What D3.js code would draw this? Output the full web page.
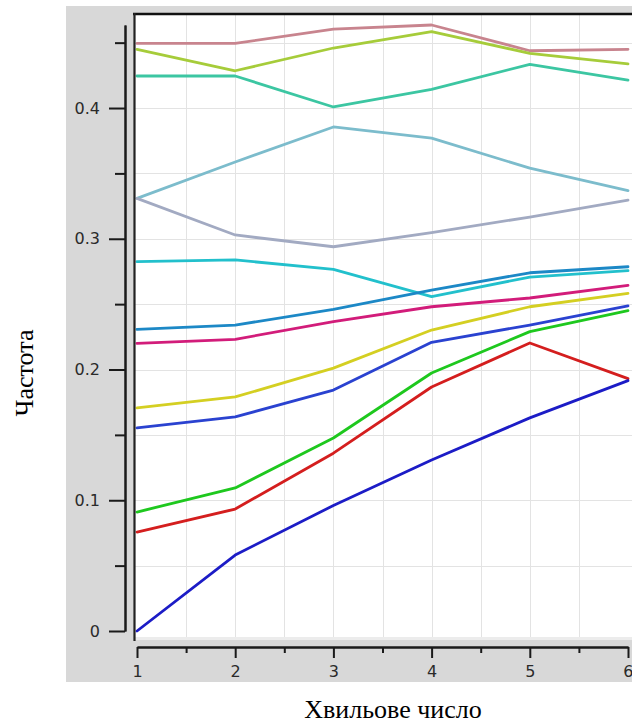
<!DOCTYPE html>
<html>
<head>
<meta charset="utf-8">
<script src="https://cdn.jsdelivr.net/npm/d3@7"></script>
<style>
  body { margin: 0; background: #ffffff; }
  svg { display: block; }
</style>
</head>
<body>
<svg id="chart" width="632" height="724"></svg>
<script>
// Wave numbers along the x axis
const waveNumbers = [1, 2, 3, 4, 5, 6];

// Frequency of each branch at every wave number
const roseSeries      = [0.4494, 0.4494, 0.4604, 0.4635, 0.4438, 0.4449];
const limeSeries      = [0.4449, 0.4285, 0.4459, 0.4584, 0.4418, 0.4337];
const tealSeries      = [0.4245, 0.4245, 0.4008, 0.4143, 0.4334, 0.4214];
const skySeries       = [0.3309, 0.3587, 0.3855, 0.3770, 0.3540, 0.3368];
const slateSeries     = [0.3309, 0.3029, 0.2939, 0.3047, 0.3166, 0.3296];
const cyanSeries      = [0.2825, 0.2838, 0.2766, 0.2557, 0.2707, 0.2756];
const steelSeries     = [0.2307, 0.2340, 0.2460, 0.2607, 0.2740, 0.2786];
const magentaSeries   = [0.2200, 0.2231, 0.2366, 0.2480, 0.2547, 0.2644];
const yellowSeries    = [0.1706, 0.1790, 0.2011, 0.2302, 0.2480, 0.2582];
const blueSeries      = [0.1553, 0.1637, 0.1843, 0.2208, 0.2340, 0.2486];
const greenSeries     = [0.0910, 0.1094, 0.1476, 0.1973, 0.2290, 0.2450];
const redSeries       = [0.0757, 0.0933, 0.1360, 0.1866, 0.2203, 0.1930];
const navySeries      = [0.0000, 0.0581, 0.0960, 0.1308, 0.1630, 0.1915];

// Axis ticks
const yMajorTicks = [0, 0.1, 0.2, 0.3, 0.4];
const yTickLabels = ["0", "0.1", "0.2", "0.3", "0.4"];
const yMinorTicks = [0.05, 0.15, 0.25, 0.35, 0.45];
const xMajorTicks = [1, 2, 3, 4, 5, 6];
const xTickLabels = ["1", "2", "3", "4", "5", "6"];
const xMinorTicks = [1.5, 2.5, 3.5, 4.5, 5.5];
const yGridValues = [0.05, 0.1, 0.15, 0.2, 0.25, 0.3, 0.35, 0.4, 0.45];
const xGridValues = [1.5, 2, 2.5, 3, 3.5, 4, 4.5, 5, 5.5];

const seriesList = [
  roseSeries, limeSeries, tealSeries, skySeries, slateSeries, cyanSeries,
  steelSeries, magentaSeries, yellowSeries, blueSeries, greenSeries,
  redSeries, navySeries
];
const seriesColors = [
  "#c8848e", "#a6cc3a", "#3cc6a2", "#7cbccc", "#a2aac2", "#22c0cc",
  "#1c88c6", "#d21c7a", "#d4cf22", "#2a42d0", "#1ec81e",
  "#d41e1e", "#1c1cc6"
];

const svg = d3.select("#chart");

// Grey panel behind the plot
svg.append("rect")
  .attr("x", 66).attr("y", 6).attr("width", 566).attr("height", 676)
  .attr("fill", "#d8d8d8");

// White plotting area
svg.append("rect")
  .attr("x", 134).attr("y", 14).attr("width", 498).attr("height", 626)
  .attr("fill", "#ececec");
svg.append("rect")
  .attr("x", 134).attr("y", 14).attr("width", 498).attr("height", 623)
  .attr("fill", "#ffffff");

const x = d3.scaleLinear().domain([1, 6]).range([137, 628]);
const y = d3.scaleLinear().domain([0, 0.4635]).range([631, 25]);

// Grid
const grid = svg.append("g").attr("stroke", "#e3e3e3").attr("stroke-width", 1);
grid.selectAll("line.h").data(yGridValues).join("line")
  .attr("class", "h")
  .attr("x1", 134).attr("x2", 632)
  .attr("y1", d => Math.round(y(d)) + 0.5).attr("y2", d => Math.round(y(d)) + 0.5);
grid.selectAll("line.v").data(xGridValues).join("line")
  .attr("class", "v")
  .attr("y1", 14).attr("y2", 637)
  .attr("x1", d => Math.round(x(d)) + 0.5).attr("x2", d => Math.round(x(d)) + 0.5);

// Lines
const line = d3.line()
  .x((d, i) => x(waveNumbers[i]))
  .y(d => y(d));

svg.append("g")
  .selectAll("path")
  .data(seriesList)
  .join("path")
  .attr("d", d => line(d))
  .attr("fill", "none")
  .attr("stroke", (d, i) => seriesColors[i])
  .attr("stroke-width", 2.8)
  .attr("stroke-linejoin", "round")
  .attr("stroke-linecap", "round");

// Plot frame (top and left edges)
svg.append("line")
  .attr("x1", 133).attr("x2", 632).attr("y1", 14).attr("y2", 14)
  .attr("stroke", "#111").attr("stroke-width", 2.5);
svg.append("line")
  .attr("x1", 134.5).attr("x2", 134.5).attr("y1", 13).attr("y2", 641)
  .attr("stroke", "#222").attr("stroke-width", 2.2);

// Y axis
svg.append("g")
  .attr("transform", "translate(125,0)")
  .call(d3.axisLeft(y)
    .tickValues(yMajorTicks)
    .tickFormat((d, i) => yTickLabels[i])
    .tickSize(16)
    .tickSizeOuter(0)
    .tickPadding(9));
svg.append("g")
  .attr("transform", "translate(125,0)")
  .call(d3.axisLeft(y)
    .tickValues(yMinorTicks)
    .tickFormat("")
    .tickSize(10)
    .tickSizeOuter(0));

// X axis
const xAxis = svg.append("g")
  .attr("transform", "translate(0,647)")
  .call(d3.axisBottom(x)
    .tickValues(xMajorTicks)
    .tickFormat((d, i) => xTickLabels[i])
    .tickSize(11)
    .tickSizeOuter(0)
    .tickPadding(8));
svg.append("g")
  .attr("transform", "translate(0,647)")
  .call(d3.axisBottom(x)
    .tickValues(xMinorTicks)
    .tickFormat("")
    .tickSize(6)
    .tickSizeOuter(0));

// Keep the last wave-number label inside the right edge
xAxis.selectAll(".tick text")
  .filter(d => d === xMajorTicks[xMajorTicks.length - 1])
  .attr("text-anchor", "end")
  .attr("dx", "0.3em");

svg.selectAll(".domain, .tick line")
  .attr("stroke", "#1a1a1a")
  .attr("stroke-width", 2);
svg.selectAll(".tick text")
  .attr("font-family", "'DejaVu Sans', sans-serif")
  .attr("font-size", 16)
  .attr("fill", "#2a2a2a");

// Axis titles
svg.append("text")
  .attr("x", 393).attr("y", 718)
  .attr("text-anchor", "middle")
  .attr("font-family", "'Liberation Serif', 'Times New Roman', serif")
  .attr("font-size", 26)
  .attr("fill", "#000")
  .text("Хвильове число");

svg.append("text")
  .attr("transform", "translate(33,373) rotate(-90)")
  .attr("text-anchor", "middle")
  .attr("font-family", "'Liberation Serif', 'Times New Roman', serif")
  .attr("font-size", 26)
  .attr("fill", "#000")
  .text("Частота");
</script>
</body>
</html>
